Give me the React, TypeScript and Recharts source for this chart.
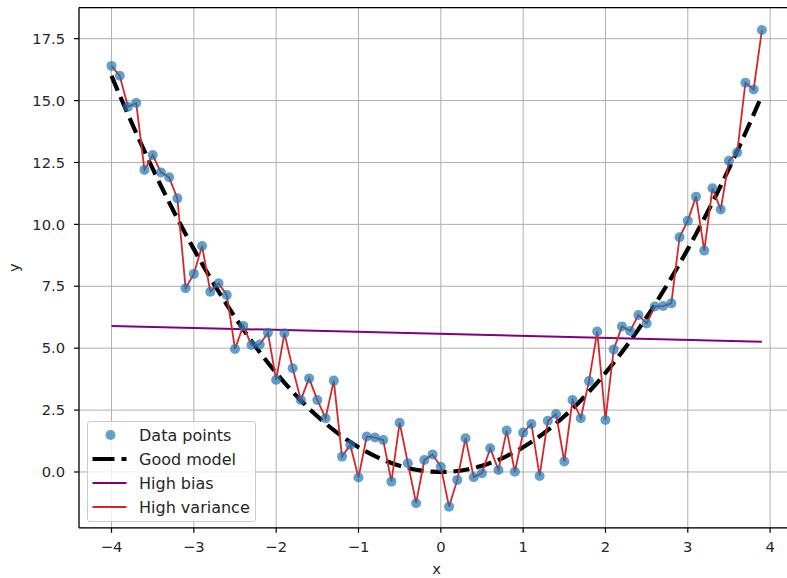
import React from "react";
import {
  ComposedChart,
  Scatter,
  Line,
  XAxis,
  YAxis,
  CartesianGrid,
  ReferenceLine,
} from "recharts";

// x sampled every 0.1 from -4.0 to 3.9
const xs = [
  -4.0, -3.9, -3.8, -3.7, -3.6, -3.5, -3.4, -3.3, -3.2, -3.1,
  -3.0, -2.9, -2.8, -2.7, -2.6, -2.5, -2.4, -2.3, -2.2, -2.1,
  -2.0, -1.9, -1.8, -1.7, -1.6, -1.5, -1.4, -1.3, -1.2, -1.1,
  -1.0, -0.9, -0.8, -0.7, -0.6, -0.5, -0.4, -0.3, -0.2, -0.1,
  0.0, 0.1, 0.2, 0.3, 0.4, 0.5, 0.6, 0.7, 0.8, 0.9,
  1.0, 1.1, 1.2, 1.3, 1.4, 1.5, 1.6, 1.7, 1.8, 1.9,
  2.0, 2.1, 2.2, 2.3, 2.4, 2.5, 2.6, 2.7, 2.8, 2.9,
  3.0, 3.1, 3.2, 3.3, 3.4, 3.5, 3.6, 3.7, 3.8, 3.9,
];

// noisy observations
const observed = [
  16.4, 16.0, 14.75, 14.9, 12.2, 12.8, 12.1, 11.9, 11.05, 7.42,
  8.0, 9.13, 7.28, 7.62, 7.15, 4.97, 5.9, 5.13, 5.15, 5.62,
  3.72, 5.6, 4.19, 2.91, 3.78, 2.91, 2.17, 3.69, 0.62, 1.09,
  -0.22, 1.43, 1.39, 1.29, -0.39, 1.99, 0.35, -1.26, 0.48, 0.71,
  0.21, -1.4, -0.32, 1.36, -0.21, -0.05, 0.96, 0.08, 1.67, 0.01,
  1.59, 1.94, -0.16, 2.07, 2.34, 0.42, 2.91, 2.17, 3.67, 5.67,
  2.1, 4.95, 5.88, 5.69, 6.34, 6.0, 6.68, 6.7, 6.81, 9.48,
  10.15, 11.12, 8.94, 11.46, 10.6, 12.57, 12.9, 15.72, 15.45, 17.85,
];

// good model (quadratic fit)
const goodModel = [
  16.0, 15.21, 14.44, 13.69, 12.96, 12.25, 11.56, 10.89, 10.24, 9.61,
  9.0, 8.41, 7.84, 7.29, 6.76, 6.25, 5.76, 5.29, 4.84, 4.41,
  4.0, 3.61, 3.24, 2.89, 2.56, 2.25, 1.96, 1.69, 1.44, 1.21,
  1.0, 0.81, 0.64, 0.49, 0.36, 0.25, 0.16, 0.09, 0.04, 0.01,
  0.0, 0.01, 0.04, 0.09, 0.16, 0.25, 0.36, 0.49, 0.64, 0.81,
  1.0, 1.21, 1.44, 1.69, 1.96, 2.25, 2.56, 2.89, 3.24, 3.61,
  4.0, 4.41, 4.84, 5.29, 5.76, 6.25, 6.76, 7.29, 7.84, 8.41,
  9.0, 9.61, 10.24, 10.89, 11.56, 12.25, 12.96, 13.69, 14.44, 15.21,
];

// high bias: straight line, only its end values
const biasStart = 5.9;
const biasEnd = 5.26;

const xTicks = [-4, -3, -2, -1, 0, 1, 2, 3, 4];
const yTicks = [0, 2.5, 5, 7.5, 10, 12.5, 15, 17.5];

const X_DOMAIN: [number, number] = [-4.395, 4.295];
const Y_DOMAIN: [number, number] = [-2.255, 18.755];

const data = xs.map((x, i) => ({
  x,
  y: observed[i],
  good: goodModel[i],
  bias: i === 0 ? biasStart : i === xs.length - 1 ? biasEnd : null,
}));

const FONT = "'DejaVu Sans', Verdana, sans-serif";
const TEXT = "#262626";
const DOT = "#1f77b4";
const RED = "#d62728";
const PURPLE = "#800080";

const fmtX = (v: number) => (v < 0 ? `\u2212${Math.abs(v)}` : String(v));
const fmtY = (v: number) => v.toFixed(1);

const Dot = (props: any) => {
  const { cx, cy } = props;
  if (cx == null || cy == null) return <g />;
  return <circle cx={cx} cy={cy} r={5} fill={DOT} fillOpacity={0.7} />;
};

const legendItems = [
  { label: "Data points", kind: "dot" },
  { label: "Good model", kind: "dash" },
  { label: "High bias", kind: "bias" },
  { label: "High variance", kind: "var" },
];

const LegendBox = () => (
  <div
    style={{
      position: "absolute",
      left: 87,
      top: 421,
      width: 167,
      height: 99,
      border: "1px solid #cccccc",
      borderRadius: 3,
      background: "rgba(255,255,255,0.8)",
      fontFamily: FONT,
      fontSize: 16,
      color: TEXT,
      boxSizing: "content-box",
    }}
  >
    {legendItems.map((it, i) => (
      <div
        key={it.label}
        style={{
          position: "absolute",
          left: 0,
          top: 1 + i * 24,
          height: 24,
          width: "100%",
          display: "flex",
          alignItems: "center",
        }}
      >
        <svg width={51} height={24} style={{ flex: "none" }}>
          {it.kind === "dot" && (
            <circle cx={22.5} cy={12} r={5} fill={DOT} fillOpacity={0.7} />
          )}
          {it.kind === "dash" && (
            <line
              x1={4.5}
              x2={38.5}
              y1={12}
              y2={12}
              stroke="#000"
              strokeWidth={4.2}
              strokeDasharray="22 7"
            />
          )}
          {it.kind === "bias" && (
            <line x1={4.5} x2={38.5} y1={12} y2={12} stroke={PURPLE} strokeWidth={2} />
          )}
          {it.kind === "var" && (
            <line x1={4.5} x2={38.5} y1={12} y2={12} stroke={RED} strokeWidth={2} />
          )}
        </svg>
        <span style={{ whiteSpace: "nowrap" }}>{it.label}</span>
      </div>
    ))}
  </div>
);

const tickStyle = { fontFamily: FONT, fontSize: 14.7, fill: TEXT };

export default function App() {
  return (
    <div
      style={{
        position: "absolute",
        left: 0,
        top: 0,
        width: 787,
        height: 578,
        overflow: "hidden",
        background: "#fff",
      }}
    >
      <ComposedChart
        width={800}
        height={578}
        data={data}
        margin={{ top: 7.6, right: 5.6, left: 0, bottom: 0 }}
      >
        <CartesianGrid stroke="#b0b0b0" strokeWidth={1} />
        <XAxis
          dataKey="x"
          type="number"
          domain={X_DOMAIN}
          ticks={xTicks}
          tickFormatter={fmtX}
          height={50.2}
          tickSize={5}
          tickMargin={9}
          axisLine={{ stroke: "#000", strokeWidth: 1.2 }}
          tickLine={{ stroke: "#000", strokeWidth: 1.2 }}
          tick={tickStyle}
          allowDataOverflow
          label={{
            value: "x",
            position: "insideBottom",
            offset: 4,
            style: { fontFamily: FONT, fontSize: 14.7, fill: TEXT },
          }}
        />
        <YAxis
          type="number"
          domain={Y_DOMAIN}
          ticks={yTicks}
          tickFormatter={fmtY}
          width={79}
          tickSize={5}
          tickMargin={9}
          axisLine={{ stroke: "#000", strokeWidth: 1.2 }}
          tickLine={{ stroke: "#000", strokeWidth: 1.2 }}
          tick={tickStyle}
          allowDataOverflow
          label={{
            value: "y",
            angle: -90,
            position: "insideLeft",
            offset: 14,
            style: { fontFamily: FONT, fontSize: 14.7, fill: TEXT, textAnchor: "middle" },
          }}
        />
        {/* top spine; the right spine falls past the visible edge */}
        <ReferenceLine y={Y_DOMAIN[1]} stroke="#000" strokeWidth={1.2} />
        <Scatter dataKey="y" shape={Dot} isAnimationActive={false} />
        <Line
          type="monotone"
          dataKey="good"
          stroke="#000"
          strokeWidth={4.2}
          strokeDasharray="16 7"
          dot={false}
          activeDot={false}
          isAnimationActive={false}
        />
        <Line
          type="linear"
          dataKey="bias"
          stroke={PURPLE}
          strokeWidth={2}
          connectNulls
          dot={false}
          activeDot={false}
          isAnimationActive={false}
        />
        <Line
          type="linear"
          dataKey="y"
          stroke={RED}
          strokeWidth={1.8}
          dot={false}
          activeDot={false}
          isAnimationActive={false}
        />
      </ComposedChart>
      <LegendBox />
    </div>
  );
}
